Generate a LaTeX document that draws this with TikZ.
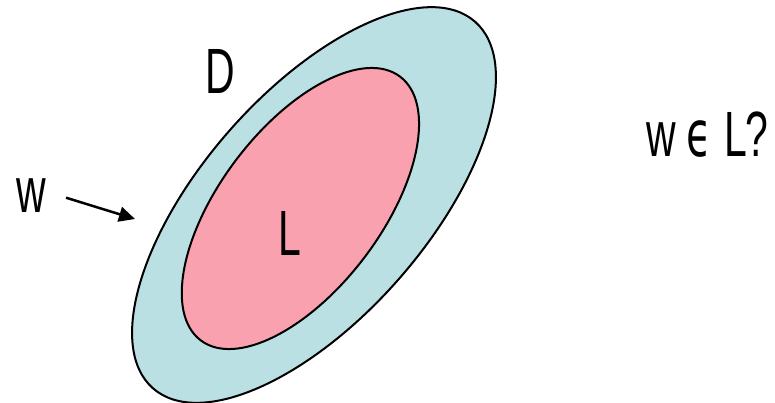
\documentclass[tikz,border=0pt]{standalone}
\usepackage{fontspec}
\setmainfont{Liberation Sans}[FakeStretch=0.64]
\newfontfamily\epsfont{DejaVu Sans}[FakeStretch=0.64]
\usetikzlibrary{arrows.meta}
\definecolor{dblue}{RGB}{186,224,227}
\definecolor{lpink}{RGB}{250,161,176}
\newcommand{\cbox}[1]{\makebox[0pt]{#1}}
\begin{document}
\begin{tikzpicture}[x=1pt,y=-1pt,
  region/.style={draw=black,line width=2pt},
  lbl/.style={inner sep=0pt,anchor=base,font=\fontsize{64}{64}\selectfont}]
\useasboundingbox (0,0) rectangle (775,403);
\path[region,fill=dblue,rotate around={48.7:(314,205)}] (314,205) ellipse [x radius=244pt,y radius=112.6pt];
\path[region,fill=lpink,rotate around={52.9:(300.4,208.5)}] (300.4,208.5) ellipse [x radius=165.3pt,y radius=80.6pt];
\node[lbl] (D) at (220,93.3) {D};
\node[lbl] (L) at (289.7,255) {L};
\node[lbl] (w) at (31.5,212) {w};
\node[lbl,anchor=base west] (q) at (661,156.7) {\cbox{w}\kern38pt\cbox{\epsfont ϵ}\kern37pt\cbox{L}\kern20.5pt\cbox{?}};
\coordinate (tip) at (135,219);
\draw[line width=2.5pt,-{Triangle[length=16pt,width=15pt]}] (66,197.7) -- (tip);
\end{tikzpicture}
\end{document}
